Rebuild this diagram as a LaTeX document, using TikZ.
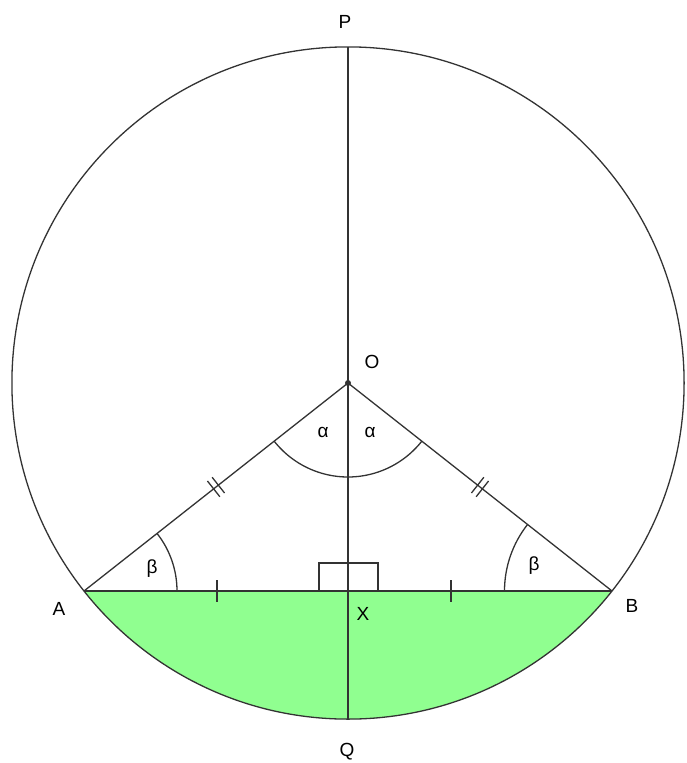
\documentclass[tikz,border=0pt]{standalone}
\usepackage{fontspec}
\setmainfont{Liberation Sans}
\usetikzlibrary{calc}
\definecolor{segfill}{RGB}{144,255,144}
\definecolor{ink}{RGB}{51,51,51}
\begin{document}
\begin{tikzpicture}[x=1pt,y=-1pt,
  geo/.style={draw=ink,line width=1.3pt},
  lbl/.style={font=\fontsize{19}{19}\selectfont,text=black,inner sep=0pt}]
\useasboundingbox (0,0) rectangle (687,763);
\coordinate (O) at (348,383);
\coordinate (A) at (84,591);
\coordinate (B) at (612,591);
\coordinate (X) at (348,591);
\coordinate (P) at (348,46.9);
\coordinate (Q) at (348,719.1);
% green segment
\begin{scope}
  \clip (0,591) rectangle (687,763);
  \fill[segfill] (O) circle (336.1);
\end{scope}
% circle
\draw[geo] (O) circle (336.1);
% lines
\draw[geo] (P) -- (Q);
\draw[geo] (A) -- (B);
\draw[geo] (A) -- (O) -- (B);
% right angle box
\draw[geo] (319,591) -- (319,563) -- (378,563) -- (378,591);
% alpha arc
\draw[geo] ($(O)+(141.77:94)$) arc[start angle=141.77,end angle=38.23,radius=94];
% beta arcs
\draw[geo] ($(A)+(93,0)$) arc[start angle=0,end angle=-38.23,radius=93];
\draw[geo] ($(B)+(-107.5,0)$) arc[start angle=180,end angle=218.23,radius=107.5];
% single ticks
\draw[geo] (217,580) -- (217,602);
\draw[geo] (451,580) -- (451,602);
% double ticks on OA
\draw[geo] (207.45,481.0) -- (219.83,496.72);
\draw[geo] (212.17,477.28) -- (224.55,493.0);
% double ticks on OB
\draw[geo] (488.55,481.0) -- (476.17,496.72);
\draw[geo] (483.83,477.28) -- (471.45,493.0);
% centre dot
\fill[ink] (O) circle (3);
% labels
\node[lbl] (lP) at (345,22) {P};
\node[lbl] (lQ) at (347,752) {Q};
\node[lbl] (lO) at (372,362) {O};
\node[lbl] (lA) at (59,609) {A};
\node[lbl] (lB) at (632,606) {B};
\node[lbl] (lX) at (363,614) {X};
\node[lbl] (la1) at (323,432) {α};
\node[lbl] (la2) at (370,432) {α};
\node[lbl] (lb1) at (152,569) {β};
\node[lbl] (lb2) at (534,566) {β};
\end{tikzpicture}
\end{document}
